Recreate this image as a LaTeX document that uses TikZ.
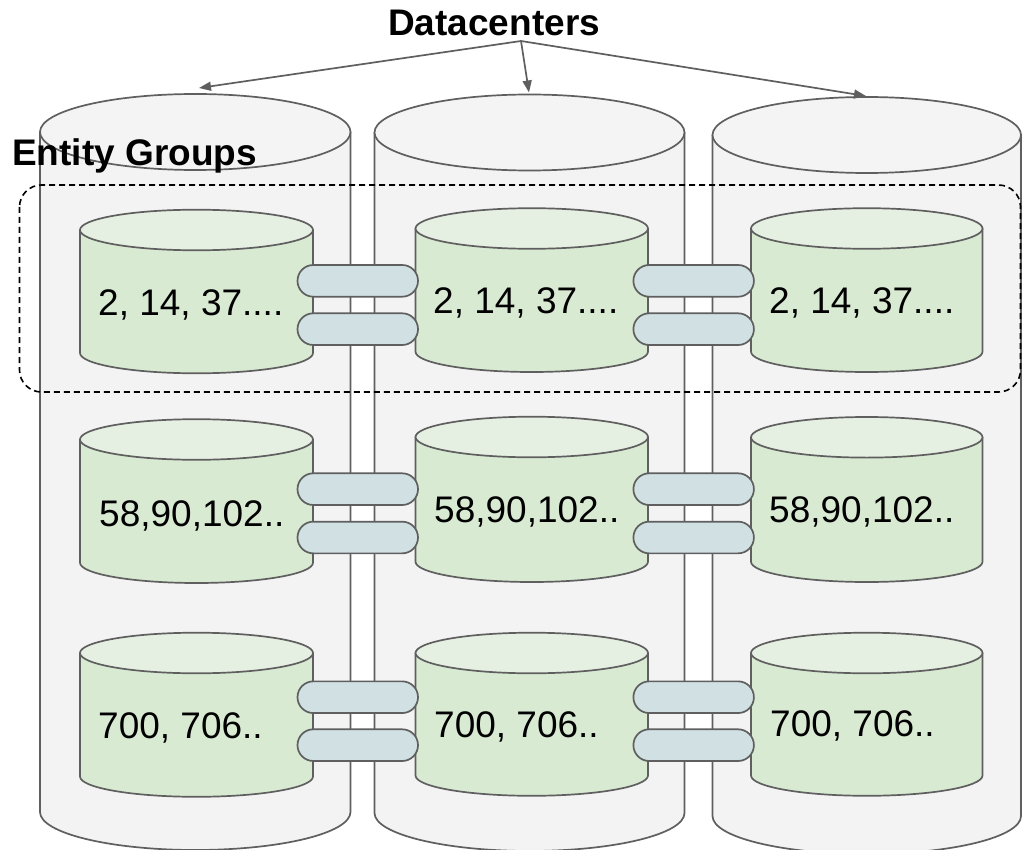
\documentclass[tikz,border=0pt]{standalone}
\usepackage{fontspec}
\setmainfont{Liberation Sans}
\usetikzlibrary{arrows.meta}
\definecolor{outl}{HTML}{5F5F5F}
\definecolor{bigfill}{HTML}{F3F3F3}
\definecolor{bigtop}{HTML}{F4F4F4}
\definecolor{grbody}{HTML}{D9EAD3}
\definecolor{grtop}{HTML}{E6F0E2}
\definecolor{pillc}{HTML}{D0E0E3}
\newcommand{\drawcyl}[7]{%
  \pgfmathsetmacro{\crx}{(#2-#1)/2}%
  \pgfmathsetmacro{\ccx}{(#2+#1)/2}%
  \filldraw[cylline, fill=#6] (#1,#3) -- (#1,#4) arc[start angle=180, end angle=360, x radius=\crx pt, y radius=#5pt] -- (#2,#3) -- cycle;
  \filldraw[cylline, fill=#7] (\ccx,#3) ellipse[x radius=\crx pt, y radius=#5pt];
}
\tikzset{
  cylline/.style={draw=outl, line width=1.7pt, line join=round},
  pill/.style={draw=outl, fill=pillc, line width=1.7pt, rounded corners=15.8pt, minimum width=120.5pt, minimum height=31.7pt, inner sep=0pt},
  numtxt/.style={anchor=base west, inner sep=0pt, font=\fontsize{37}{44}\selectfont},
  ttltxt/.style={anchor=base west, inner sep=0pt, font=\fontsize{37}{44}\selectfont\bfseries},
  dcarrow/.style={draw=outl, line width=1.7pt, -{Triangle[length=12pt, width=9pt]}},
  groupbox/.style={draw=black, line width=1.6pt, dash pattern=on 6pt off 4pt, rounded corners=22pt}
}
\begin{document}
\begin{tikzpicture}[x=1pt, y=-1pt]
\useasboundingbox[fill=white] (0,0) rectangle (1022,850);
% datacenters (big cylinders)
\drawcyl{40}{350.5}{132}{812}{38}{bigfill}{bigtop}
\drawcyl{374.5}{684.5}{132.5}{813}{38}{bigfill}{bigtop}
\drawcyl{712.5}{1021}{135}{816}{38}{bigfill}{bigtop}
% entity group box
\draw[groupbox] (19.5,185) rectangle (1020.5,392);
% entity groups (small cylinders)
\drawcyl{80}{313}{230}{353}{20.3}{grbody}{grtop}
\drawcyl{415.5}{648}{228.5}{351.7}{20.3}{grbody}{grtop}
\drawcyl{751}{982.5}{228.5}{351.7}{20.3}{grbody}{grtop}
\drawcyl{80}{313}{439.5}{562.7}{20.3}{grbody}{grtop}
\drawcyl{415.5}{648}{437}{561.7}{20.3}{grbody}{grtop}
\drawcyl{751}{982.5}{437.3}{561.7}{20.3}{grbody}{grtop}
\drawcyl{80}{313}{653}{776.5}{20.3}{grbody}{grtop}
\drawcyl{415.5}{648}{653}{775.5}{20.3}{grbody}{grtop}
\drawcyl{751}{982.5}{653}{775.5}{20.3}{grbody}{grtop}
% labels
\node[numtxt] (g1a) at (98,315) {2, 14, 37....};
\node[numtxt] (g1b) at (433,313) {2, 14, 37....};
\node[numtxt] (g1c) at (769,313) {2, 14, 37....};
\node[numtxt] (g2a) at (99,526) {58,90,102..};
\node[numtxt] (g2b) at (434,522) {58,90,102..};
\node[numtxt] (g2c) at (769,522) {58,90,102..};
\node[numtxt] (g3a) at (98,738) {700, 706..};
\node[numtxt] (g3b) at (434,737) {700, 706..};
\node[numtxt] (g3c) at (770,736) {700, 706..};
% replication links
\node[pill] (r1au) at (357.75,280.85) {};
\node[pill] (r1al) at (357.75,329.15) {};
\node[pill] (r1bu) at (693.65,280.85) {};
\node[pill] (r1bl) at (693.65,329.15) {};
\node[pill] (r2au) at (357.75,489.15) {};
\node[pill] (r2al) at (357.75,537.5) {};
\node[pill] (r2bu) at (693.65,489.15) {};
\node[pill] (r2bl) at (693.65,537.5) {};
\node[pill] (r3au) at (357.75,697.2) {};
\node[pill] (r3al) at (357.75,745.15) {};
\node[pill] (r3bu) at (693.65,697.2) {};
\node[pill] (r3bl) at (693.65,745.15) {};
% titles
\node[ttltxt] (eg) at (12,166) {Entity Groups};
\node[ttltxt] (dc) at (388,36) {Datacenters};
\coordinate (src) at (521,41);
\coordinate (dcA) at (199,88);
\coordinate (dcB) at (529,92.5);
\coordinate (dcC) at (866,96);
\draw[dcarrow] (src) -- (dcA);
\draw[dcarrow] (src) -- (dcB);
\draw[dcarrow] (src) -- (dcC);
\end{tikzpicture}
\end{document}
